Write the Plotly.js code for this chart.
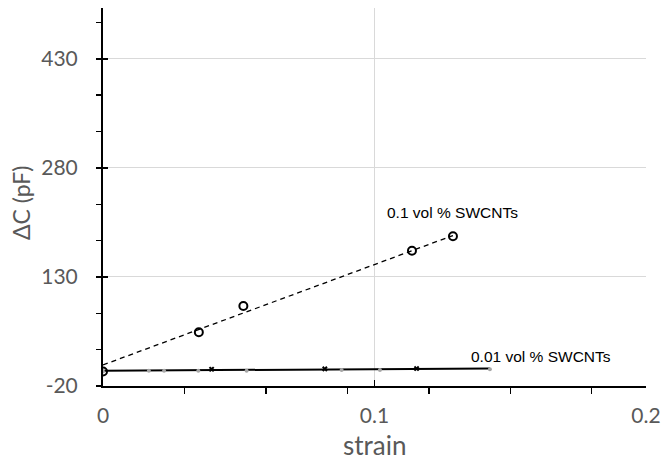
<!DOCTYPE html>
<html>
<head>
<meta charset="utf-8">
<script src="https://cdn.plot.ly/plotly-3.0.1.min.js"></script>
<style>html,body{margin:0;padding:0;background:#fff;}#chart{width:664px;height:467px;}</style>
</head>
<body>
<div id="chart"></div>
<script>
// 0.1 vol % SWCNTs (open circles) and its linear trendline
const s1Strain = [0, 0.0353, 0.0517, 0.1138, 0.1289];
const s1DeltaC = [0, 54, 90, 166, 186];
const trend1Strain = [0, 0.1289];
const trend1DeltaC = [9, 187];

// 0.01 vol % SWCNTs (grey dots, black x markers) and its trendline
const s2Strain = [0, 0.0169, 0.0225, 0.0351, 0.0529, 0.0879, 0.1020, 0.1425];
const s2DeltaC = [0, 1, 1, 1, 1, 2, 2, 3];
const s2bStrain = [0.040, 0.0817, 0.1155];
const s2bDeltaC = [3, 3.5, 4];
const trend2Strain = [0, 0.1425];
const trend2DeltaC = [1, 4];

const xTicks = [0, 0.1, 0.2];
const xTickText = ["0", "0.1", "0.2"];
const yTicks = [-20, 130, 280, 430];
const yTickText = ["-20", "130", "280", "430"];

const labels = [
  {text: "0.1 vol % SWCNTs", x: 0.1038, y: 219},
  {text: "0.01 vol % SWCNTs", x: 0.1348, y: 20}
];
const yTitle = "ΔC (pF)";
const xTitle = "strain";

const gray = "#595959";
const fam = "Lato, 'Open Sans', sans-serif";
const tickFont = {family: fam, size: 21, color: gray};

const traces = [
  {x: trend1Strain, y: trend1DeltaC, mode: "lines", line: {color: "#000", width: 1.3, dash: "5px,4px"}, hoverinfo: "skip"},
  {x: trend2Strain, y: trend2DeltaC, mode: "lines", line: {color: "#000", width: 2}, hoverinfo: "skip"},
  {x: s2Strain, y: s2DeltaC, mode: "markers", marker: {color: "#a6a6a6", size: 4}},
  {x: s2bStrain, y: s2bDeltaC, mode: "markers", marker: {color: "#000", size: 5, symbol: "x"}},
  {x: s1Strain, y: s1DeltaC, mode: "markers", marker: {color: "#000", size: 8, symbol: "circle-open", line: {color: "#000", width: 2}}},
  {x: [0], y: [-20], yaxis: "y2", mode: "markers", marker: {opacity: 0}, hoverinfo: "skip"}
];

const annots = labels.map(l => ({
  text: l.text, x: l.x, y: l.y, xref: "x", yref: "y",
  xanchor: "left", yanchor: "middle", showarrow: false,
  font: {family: "'Liberation Sans', Arial, sans-serif", size: 15.5, color: "#000"}
}));
annots.push({
  text: yTitle, xref: "paper", yref: "paper", x: -0.151, y: 0.484,
  xanchor: "center", yanchor: "middle", textangle: -90, showarrow: false,
  font: {family: fam, size: 23, color: gray}
});
annots.push({
  text: xTitle, xref: "paper", yref: "paper", x: 0.5, y: -0.155,
  xanchor: "center", yanchor: "middle", showarrow: false,
  font: {family: fam, size: 26, color: gray}
});

const layout = {
  width: 664, height: 467,
  margin: {l: 103, r: 18, t: 8, b: 81},
  paper_bgcolor: "#fff", plot_bgcolor: "#fff",
  showlegend: false,
  xaxis: {
    range: [0, 0.2], tickvals: xTicks, ticktext: xTickText,
    ticks: "inside", ticklen: 6, tickwidth: 1.5, tickcolor: "#000",
    showline: true, linecolor: "#000", linewidth: 2,
    showgrid: true, gridcolor: "#d9d9d9", gridwidth: 1, zeroline: false,
    tickfont: tickFont, ticklabelstandoff: 10,
    minor: {tick0: 0, dtick: 0.03, ticks: "outside", ticklen: 6, tickwidth: 1.5, tickcolor: "#000", showgrid: false}
  },
  yaxis: {
    range: [-20, 500], tickvals: yTicks, ticktext: yTickText,
    ticks: "outside", ticklen: 5, tickwidth: 1.5, tickcolor: "#000",
    showline: true, linecolor: "#000", linewidth: 2,
    showgrid: true, gridcolor: "#d9d9d9", gridwidth: 1, zeroline: false,
    tickfont: tickFont, ticklabelstandoff: 14,
    minor: {tick0: -20, dtick: 50, ticks: "outside", ticklen: 5, tickwidth: 1.5, tickcolor: "#000", showgrid: false}
  },
  yaxis2: {
    overlaying: "y", side: "left", range: [-20, 500], tickvals: yTicks,
    ticks: "inside", ticklen: 5, tickwidth: 1.5, tickcolor: "#000",
    showticklabels: false, showgrid: false, showline: false, zeroline: false
  },
  annotations: annots
};

Plotly.newPlot("chart", traces, layout, {displayModeBar: false, staticPlot: true});
</script>
</body>
</html>
